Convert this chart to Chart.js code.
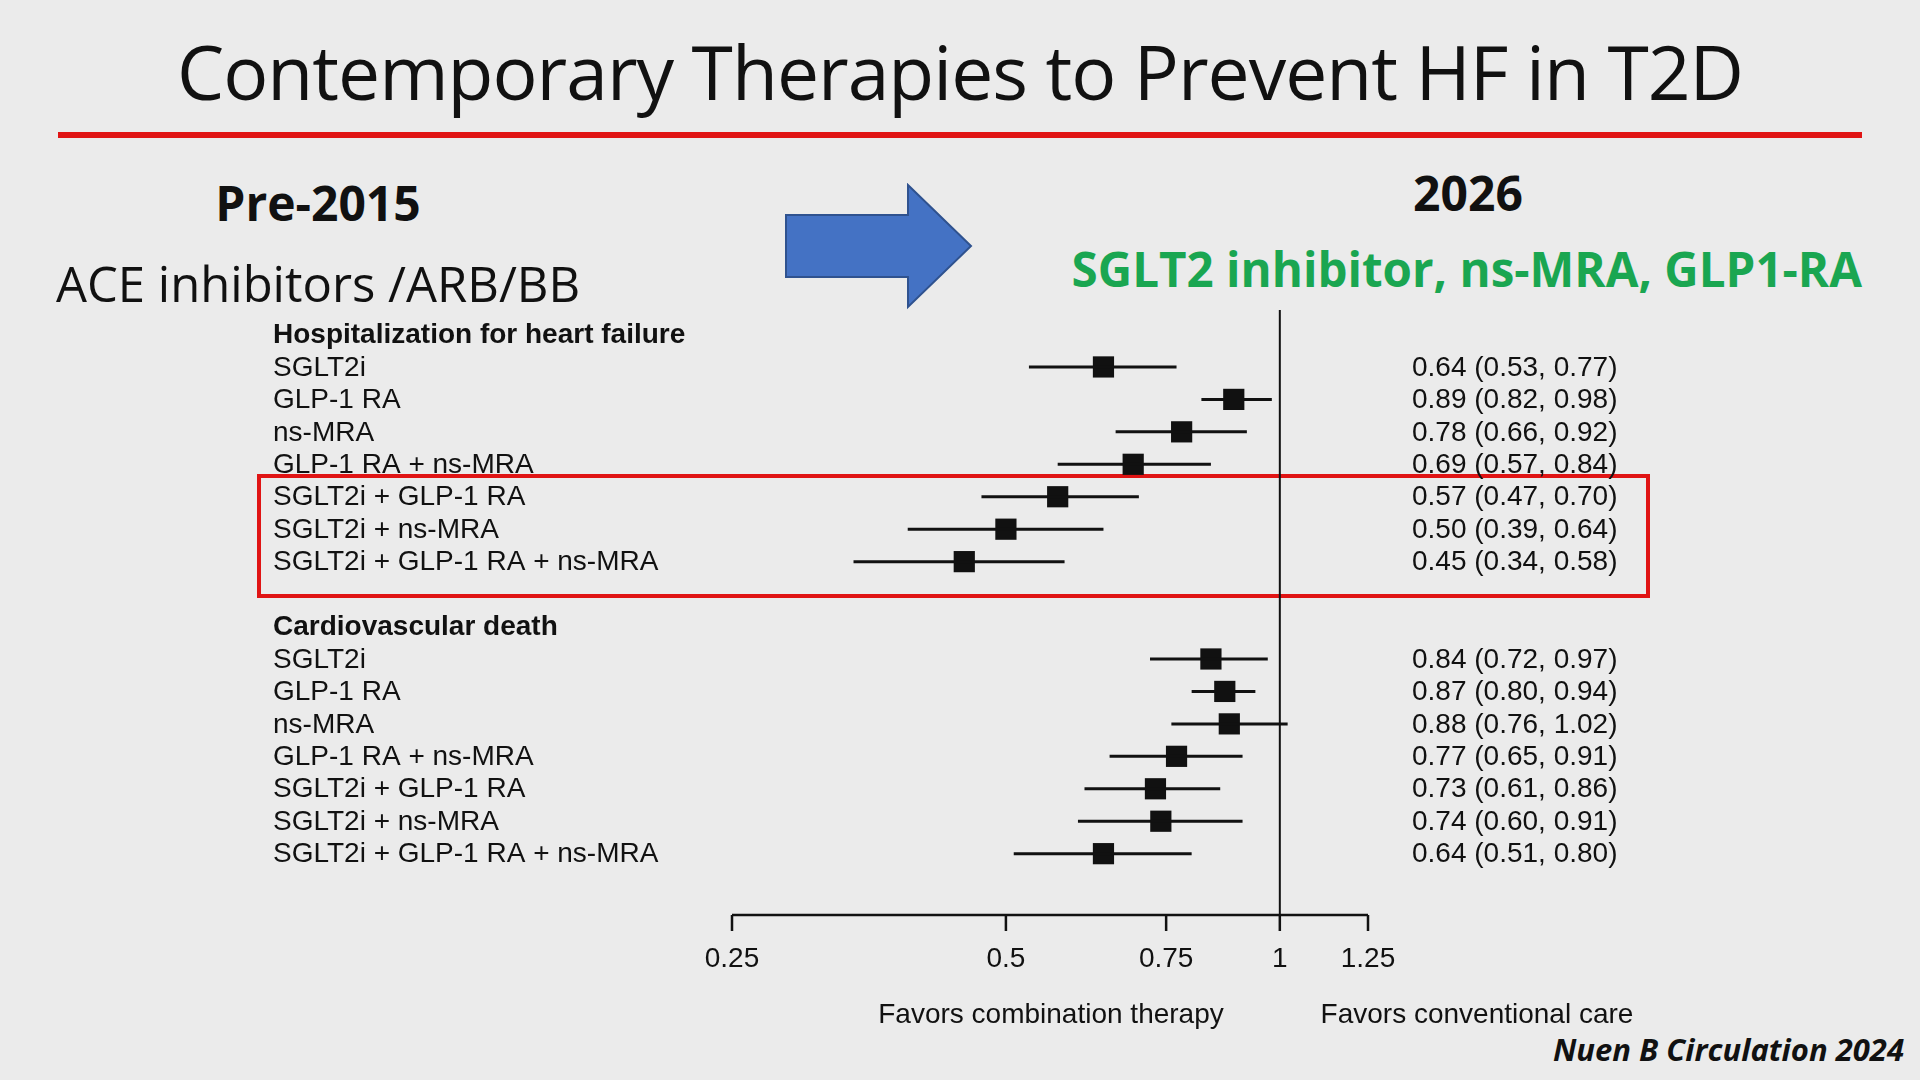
<!DOCTYPE html>
<html>
<head>
<meta charset="utf-8">
<script src="https://cdn.jsdelivr.net/npm/chart.js@4"></script>
<style>
  body { margin: 0; width: 1920px; height: 1080px; background: #ebebeb; overflow: hidden; position: relative; font-family: "Open Sans", sans-serif; }
  .abs { position: absolute; white-space: nowrap; }
  #title { left: 0; width: 1920px; top: 20px; text-align: center; font-size: 75px; color: #111; letter-spacing: -1px; }
  #rule { left: 58px; width: 1804px; top: 132px; height: 6px; background: #e01414; }
  #pre { left: 318px; top: 170px; transform: translateX(-50%); font-size: 48px; font-weight: bold; color: #111; }
  #ace { left: 56px; top: 250px; font-size: 49px; color: #111; }
  #y26 { left: 1468px; top: 160px; transform: translateX(-50%); font-size: 48px; font-weight: bold; color: #111; }
  #green { right: 58px; top: 236px; font-size: 47.5px; font-weight: bold; color: #1aa651; }
  #cite { right: 16px; top: 1028px; font-size: 31px; font-weight: bold; font-style: italic; color: #111; }
  #arrow { left: 784px; top: 183px; }
  #box { left: 257px; top: 474px; width: 1385px; height: 116px; border: 4px solid #e01414; }
  #plot { position: absolute; left: 0; top: 0; }
</style>
</head>
<body>
<div class="abs" id="title">Contemporary Therapies to Prevent HF in T2D</div>
<div class="abs" id="rule"></div>
<div class="abs" id="pre">Pre-2015</div>
<div class="abs" id="ace">ACE inhibitors /ARB/BB</div>
<div class="abs" id="y26">2026</div>
<div class="abs" id="green">SGLT2 inhibitor, ns-MRA, GLP1-RA</div>
<svg class="abs" id="arrow" width="190" height="128" viewBox="0 0 190 128">
  <polygon points="2,32 124,32 124,2 187,63 124,124 124,94 2,94" fill="#4472c4" stroke="#2f528f" stroke-width="2"/>
</svg>
<div class="abs" id="box"></div>
<div class="abs" id="cite">Nuen B Circulation 2024</div>
<div id="plot"><canvas id="forest" width="1920" height="1080"></canvas></div>

<script>
// rows: headings, then entries; blank separator between groups
const rowLabels = [
  'Hospitalization for heart failure',
  'SGLT2i', 'GLP-1 RA', 'ns-MRA', 'GLP-1 RA + ns-MRA', 'SGLT2i + GLP-1 RA', 'SGLT2i + ns-MRA', 'SGLT2i + GLP-1 RA + ns-MRA',
  '',
  'Cardiovascular death',
  'SGLT2i', 'GLP-1 RA', 'ns-MRA', 'GLP-1 RA + ns-MRA', 'SGLT2i + GLP-1 RA', 'SGLT2i + ns-MRA', 'SGLT2i + GLP-1 RA + ns-MRA'
];
const headingRows = [0, 9];
const hr   = [null, 0.64, 0.89, 0.78, 0.69, 0.57, 0.50, 0.45, null, null, 0.84, 0.87, 0.88, 0.77, 0.73, 0.74, 0.64];
const ciLo = [null, 0.53, 0.82, 0.66, 0.57, 0.47, 0.39, 0.34, null, null, 0.72, 0.80, 0.76, 0.65, 0.61, 0.60, 0.51];
const ciHi = [null, 0.77, 0.98, 0.92, 0.84, 0.70, 0.64, 0.58, null, null, 0.97, 0.94, 1.02, 0.91, 0.86, 0.91, 0.80];
const xTicks = [0.25, 0.5, 0.75, 1, 1.25];
const favorLeft = 'Favors combination therapy';
const favorRight = 'Favors conventional care';

const fmt = v => v.toFixed(2);
const points = [];
hr.forEach((v, i) => { if (v !== null) points.push({ x: v, y: i }); });

const FONT = '28px "Liberation Sans", Arial, sans-serif';

const forestPlugin = {
  id: 'forest',
  afterDatasetsDraw(chart) {
    const ctx = chart.ctx;
    const xs = chart.scales.x, ys = chart.scales.y;
    const area = chart.chartArea;
    ctx.save();
    ctx.strokeStyle = '#111';
    ctx.fillStyle = '#111';
    // reference line at 1
    ctx.lineWidth = 2;
    ctx.beginPath();
    ctx.moveTo(xs.getPixelForValue(1), area.top);
    ctx.lineTo(xs.getPixelForValue(1), area.bottom);
    ctx.stroke();
    // confidence intervals
    ctx.lineWidth = 3;
    hr.forEach((v, i) => {
      if (v === null) return;
      const y = ys.getPixelForValue(i);
      ctx.beginPath();
      ctx.moveTo(xs.getPixelForValue(ciLo[i]), y);
      ctx.lineTo(xs.getPixelForValue(ciHi[i]), y);
      ctx.stroke();
    });
    // x axis
    ctx.lineWidth = 2.5;
    ctx.beginPath();
    ctx.moveTo(xs.getPixelForValue(xTicks[0]), area.bottom);
    ctx.lineTo(xs.getPixelForValue(xTicks[xTicks.length - 1]), area.bottom);
    xTicks.forEach(t => {
      const px = xs.getPixelForValue(t);
      ctx.moveTo(px, area.bottom);
      ctx.lineTo(px, area.bottom + 16);
    });
    ctx.stroke();
    ctx.font = FONT;
    ctx.textAlign = 'center';
    ctx.textBaseline = 'middle';
    xTicks.forEach(t => ctx.fillText(String(t), xs.getPixelForValue(t), area.bottom + 44));
    ctx.fillText(favorLeft, 1051, area.bottom + 100);
    ctx.fillText(favorRight, 1477, area.bottom + 100);
    // row labels and estimates
    ctx.textAlign = 'left';
    rowLabels.forEach((lab, i) => {
      const y = ys.getPixelForValue(i) + 1;
      ctx.font = (headingRows.includes(i) ? 'bold ' : '') + FONT;
      ctx.fillText(lab, 273, y);
      if (hr[i] !== null) {
        ctx.font = FONT;
        ctx.fillText(`${fmt(hr[i])} (${fmt(ciLo[i])}, ${fmt(ciHi[i])})`, 1412, y);
      }
    });
    ctx.restore();
  }
};

new Chart(document.getElementById('forest'), {
  type: 'scatter',
  data: {
    datasets: [{
      data: points,
      pointStyle: 'rect',
      pointRadius: 15,
      pointHoverRadius: 15,
      backgroundColor: '#111',
      borderColor: '#111',
      borderWidth: 0
    }]
  },
  options: {
    responsive: false,
    animation: false,
    layout: { padding: { left: 732, right: 552, top: 310, bottom: 165 } },
    scales: {
      x: {
        type: 'logarithmic', display: false, min: 0.25, max: 1.25,
        afterBuildTicks: axis => { axis.ticks = xTicks.map(v => ({ value: v })); }
      },
      y: { type: 'linear', display: false, reverse: true, min: -0.755, max: 17.89 }
    },
    plugins: { legend: { display: false }, tooltip: { enabled: false } }
  },
  plugins: [forestPlugin]
});
</script>
</body>
</html>
